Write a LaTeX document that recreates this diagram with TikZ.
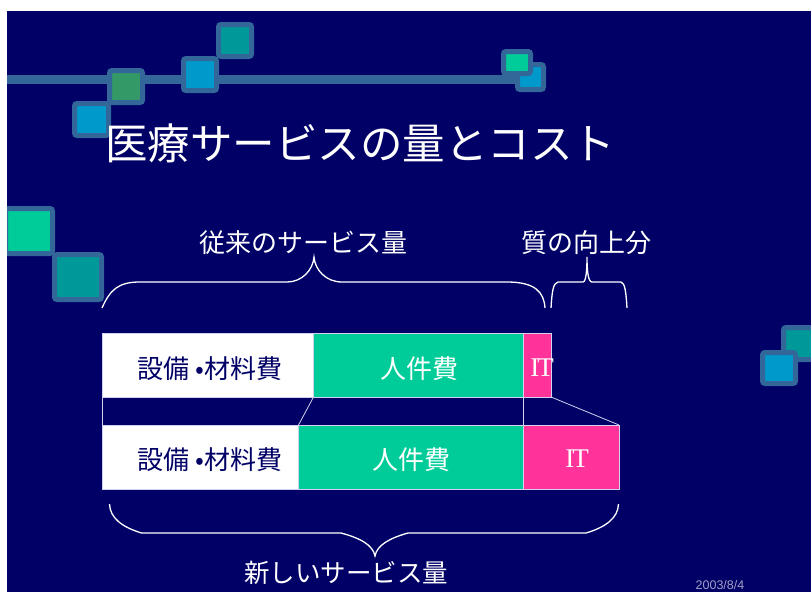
\documentclass[tikz,border=0pt]{standalone}
\usepackage{fontspec}
\newfontfamily\jp{Noto Sans CJK JP}
\newfontfamily\dsans{Liberation Sans}
\newfontfamily\dserif{Liberation Serif}
\definecolor{navy}{RGB}{0,0,102}
\definecolor{deco}{RGB}{51,102,153}
\definecolor{tealc}{RGB}{0,153,153}
\definecolor{bluec}{RGB}{0,153,204}
\definecolor{greenc}{RGB}{51,153,102}
\definecolor{mint}{RGB}{0,204,153}
\definecolor{pinkc}{RGB}{255,51,153}
\definecolor{edge}{RGB}{210,210,240}
\definecolor{datec}{RGB}{160,160,200}
\begin{document}
\begin{tikzpicture}[x=1pt,y=-1pt,
  sq/.style={draw=deco,line width=5pt,rounded corners=2.5pt},
  bar/.style={draw=edge,line width=0.8pt,inner sep=0pt,outer sep=0pt,minimum height=64pt},
  lbl/.style={inner sep=0pt,font=\jp\fontsize{26}{30}\selectfont},
  hdr/.style={inner sep=0pt,text=white,font=\jp\fontsize{26}{30}\selectfont},
  itl/.style={inner sep=0pt,text=white,font=\dserif\fontsize{27}{30}\selectfont},
  conn/.style={draw=edge,line width=0.8pt},
  brace/.style={draw=white,line width=1.3pt}]
\useasboundingbox (0,0) rectangle (811,592);
\fill[white] (0,0) rectangle (811,592);
\fill[navy] (7,11) rectangle (811,592);
\begin{scope}
\clip (7,11) rectangle (811,592);
\draw[deco,line width=9pt] (7,79.5) -- (530,79.5);
\filldraw[sq,fill=tealc] (218.5,24.5) rectangle (251.5,56.5);
\filldraw[sq,fill=bluec] (183.5,58.5) rectangle (216.5,90.5);
\filldraw[sq,fill=bluec] (74.5,103.5) rectangle (108.5,135.5);
\filldraw[sq,fill=greenc] (109.5,70.5) rectangle (142.5,102.5);
\filldraw[sq,fill=bluec] (517.5,64.5) rectangle (543.5,89.5);
\filldraw[sq,fill=mint] (503.5,51.5) rectangle (530.5,73.5);
\filldraw[sq,fill=mint] (5.5,208.5) rectangle (52.5,253.5);
\filldraw[sq,fill=tealc] (54.5,254.5) rectangle (101.5,299.5);
\filldraw[sq,fill=tealc] (783.5,327.5) rectangle (816.5,359.5);
\filldraw[sq,fill=bluec] (762.5,352.5) rectangle (795.5,383.5);
\end{scope}

\node[inner sep=0pt,text=white,font=\jp\fontsize{42.5}{48}\selectfont] (title) at (360,143) {医療サービスの量とコスト};

\node[hdr] (old) at (303,243) {従来のサービス量};
\node[hdr] (qual) at (586,243) {質の向上分};
\node[hdr,font=\jp\fontsize{25.5}{30}\selectfont] (new) at (346,573) {新しいサービス量};

% top row
\node[bar,fill=white,minimum width=211.5pt] (w1) at (207.75,365) {};
\node[bar,fill=mint,minimum width=210pt] (g1) at (418.5,365) {};
\node[bar,fill=pinkc,minimum width=27.5pt] (p1) at (537.25,365) {};
% bottom row
\node[bar,fill=white,minimum width=196.5pt,minimum height=64.5pt] (w2) at (200.25,457.25) {};
\node[bar,fill=mint,minimum width=225pt,minimum height=64.5pt] (g2) at (411,457.25) {};
\node[bar,fill=pinkc,minimum width=95.5pt,minimum height=64.5pt] (p2) at (571.25,457.25) {};

\draw[conn] (w1.south west) -- (w2.north west);
\draw[conn] (g1.south west) -- (g2.north west);
\draw[conn] (p1.south west) -- (p2.north west);
\draw[conn] (p1.south east) -- (p2.north east);

\node[lbl,text=navy] (l1) at (210,369) {設備 •材料費};
\node[lbl,text=white] (m1) at (419,369) {人件費};
\node[itl] (i1) at (542,368) {I\kern-2pt T};
\node[lbl,text=navy] (l2) at (210,460) {設備 •材料費};
\node[lbl,text=white] (m2) at (411,460) {人件費};
\node[itl] (i2) at (577,459) {I\kern-2pt T};

% braces
\draw[brace] (102,308) .. controls (110,290) and (118,282) .. (140,282) -- (287,282)
  .. controls (302,282) and (313,270) .. (314,257)
  .. controls (315,270) and (326,282) .. (342,282) -- (507,282)
  .. controls (535,282) and (544,292) .. (545,308);
\draw[brace] (551,308) .. controls (552,292) and (553,283) .. (558,282) -- (583,282)
  .. controls (586,282) and (587,270) .. (587,257)
  .. controls (587,270) and (588,282) .. (592,282) -- (621,282)
  .. controls (625,283) and (626,292) .. (627,308);
\draw[brace] (109.5,504) .. controls (110,518) and (122,527) .. (141.5,533) -- (341,533)
  .. controls (360,538) and (373,545) .. (375,556)
  .. controls (377,545) and (390,538) .. (408,533) -- (586,533)
  .. controls (606,527) and (618,518) .. (618.5,504);

\node[inner sep=0pt,text=datec,font=\dsans\fontsize{12.5}{14}\selectfont] (date) at (720,585) {2003/8/4};
\end{tikzpicture}
\end{document}
